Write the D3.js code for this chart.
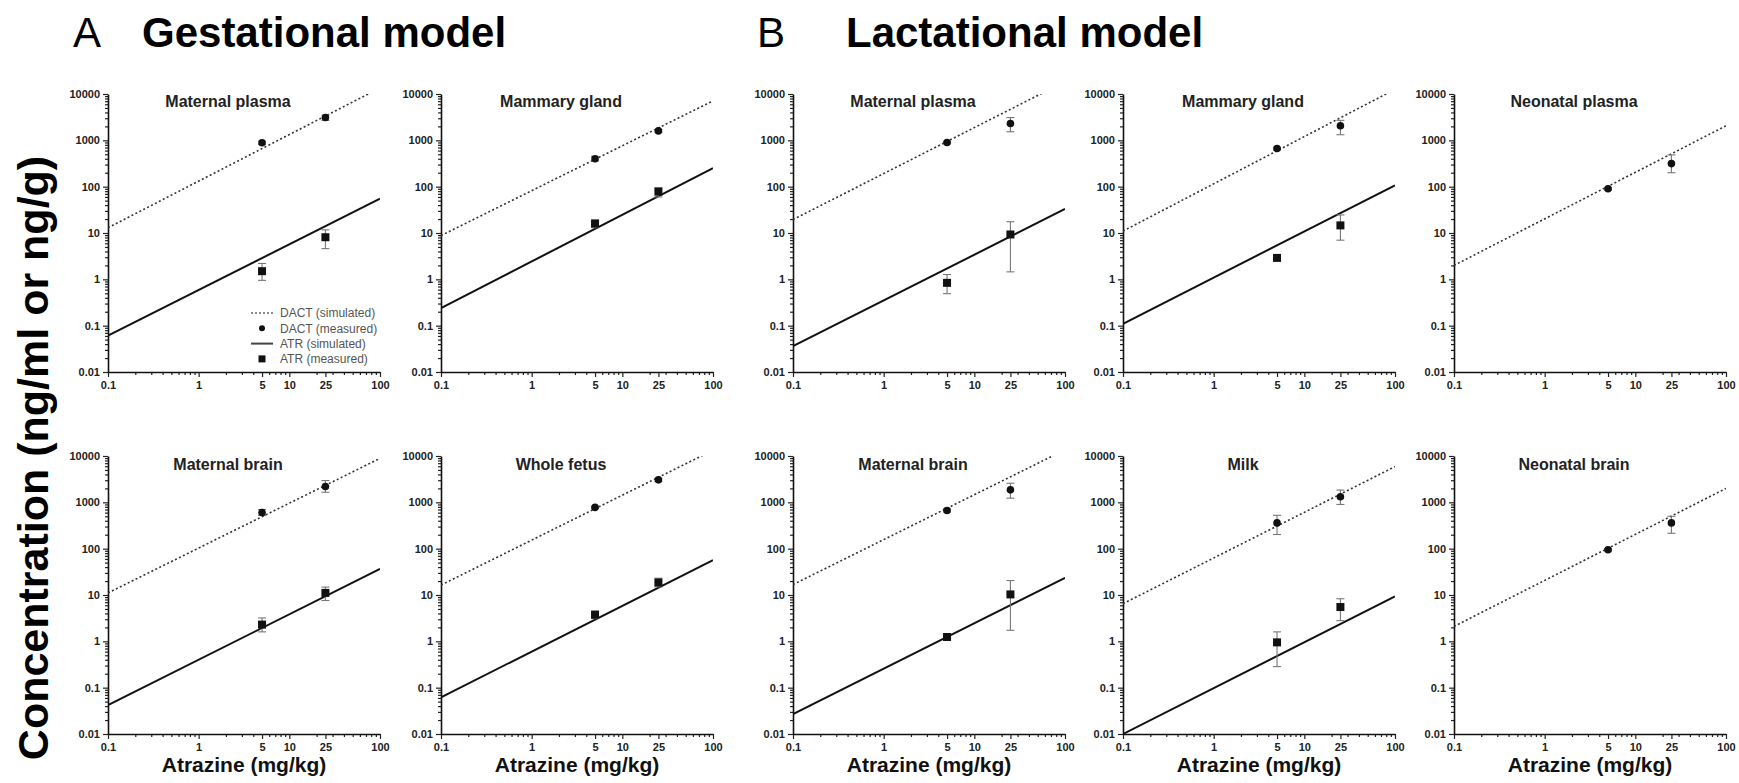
<!DOCTYPE html>
<html>
<head>
<meta charset="utf-8">
<script src="https://cdn.jsdelivr.net/npm/d3@7"></script>
<style>
body{margin:0;background:#fff;}
svg{display:block;font-family:"Liberation Sans",Arial,Helvetica,sans-serif;}
</style>
</head>
<body>
<div id="chart"></div>
<script>
// panels: 0-1,5-6 gestational ; 2-4,7-9 lactational
const panelTitles = ["Maternal plasma","Mammary gland","Maternal plasma","Mammary gland","Neonatal plasma",
                     "Maternal brain","Whole fetus","Maternal brain","Milk","Neonatal brain"];
const panelRow = [0,0,0,0,0,1,1,1,1,1];
const panelCol = [0,1,2,3,4,0,1,2,3,4];

const doses = [5, 25];
const simDoses = [0.1, 100];

// simulated lines, value at 0.1 and at 100 mg/kg
const dactSim = [[13,13500],[8.8,7100],[19.5,18500],[11,12600],[2.0,2060],
                 [11.1,8900],[16.4,13300],[16.8,13600],[6.5,5900],[2.1,2000]];
const atrSim  = [[0.061,55],[0.24,250],[0.036,33],[0.11,107],null,
                 [0.042,36.6],[0.062,56.5],[0.027,23.4],[0.01,9.3],null];

// measured, at 5 and 25 mg/kg
const dactMean = [[890,3100],[400,1600],[900,2300],[665,2060],[90,315],
                  [605,2190],[780,3060],[667,1860],[360,1320],[95,360]];
const dactLow  = [[820,2700],[360,1500],[850,1530],[620,1320],[85,200],
                  [520,1650],[740,2800],[620,1230],[202,900],[90,215]];
const dactHigh = [[960,3500],[450,1700],[950,3100],[710,2700],[95,485],
                  [700,2950],[820,3300],[720,2580],[525,1840],[100,500]];
const atrMean = [[1.5,8.1],[16,78],[0.84,9.3],[2.9,14.6],null,
                 [2.3,11.1],[3.75,18.6],[1.24,10.3],[0.95,5.5],null];
const atrLow  = [[0.95,4.6],[13,60],[0.49,1.45],[2.6,7],null,
                 [1.6,7.6],[3.1,15],[1.15,1.73],[0.285,2.8],null];
const atrHigh = [[2.2,11.7],[19,95],[1.27,17.5],[3.2,24.5],null,
                 [3.2,14.8],[4.5,23],[1.33,20.5],[1.6,8.3],null];

const xTicks = [0.1, 1, 5, 10, 25, 100];
const yTicks = [0.01, 0.1, 1, 10, 100, 1000, 10000];
const legendLabels = ["DACT (simulated)","DACT (measured)","ATR (simulated)","ATR (measured)"];

var W = 1739, H = 783;
var colLeft = [108, 441, 793, 1123, 1454], rowTop = [94, 456];
var pw = 272, ph = 278;

var svg = d3.select("#chart").append("svg")
    .attr("width", W).attr("height", H);

// headings
svg.append("text").attr("x", 73).attr("y", 47).style("font-size", "42px").text("A");
svg.append("text").attr("x", 142).attr("y", 47).style("font-size", "42px").style("font-weight", "bold").text("Gestational model");
svg.append("text").attr("x", 757).attr("y", 47).style("font-size", "42px").text("B");
svg.append("text").attr("x", 846).attr("y", 47).style("font-size", "42px").style("font-weight", "bold").text("Lactational model");

svg.append("text")
    .attr("transform", "translate(48,458) rotate(-90)")
    .attr("text-anchor", "middle")
    .style("font-size", "43px").style("font-weight", "bold")
    .text("Concentration (ng/ml or ng/g)");

var x = d3.scaleLog().domain([0.1, 100]).range([0, pw]);
var y = d3.scaleLog().domain([0.01, 10000]).range([ph, 0]);
var minorX = x.ticks().filter(d => xTicks.indexOf(d) < 0);
var minorY = y.ticks().filter(d => yTicks.indexOf(d) < 0);

var line = d3.line().x(d => x(d[0])).y(d => y(d[1]));

panelTitles.forEach(function (title, i) {
    var g = svg.append("g")
        .attr("transform", `translate(${colLeft[panelCol[i]]},${rowTop[panelRow[i]]})`);

    g.append("clipPath").attr("id", "clip" + i)
        .append("rect").attr("width", pw).attr("height", ph);

    // minor ticks
    g.append("g").attr("transform", `translate(0,${ph})`)
        .call(d3.axisBottom(x).tickValues(minorX).tickFormat("").tickSize(3).tickSizeOuter(0))
        .call(a => a.select(".domain").remove());
    g.append("g")
        .call(d3.axisLeft(y).tickValues(minorY).tickFormat("").tickSize(3).tickSizeOuter(0))
        .call(a => a.select(".domain").remove());

    var xa = g.append("g").attr("transform", `translate(0,${ph})`)
        .call(d3.axisBottom(x).tickValues(xTicks).tickFormat(d => String(d)).tickSize(5).tickSizeOuter(0));
    var ya = g.append("g")
        .call(d3.axisLeft(y).tickValues(yTicks).tickFormat(d => String(d)).tickSize(5).tickSizeOuter(0));
    [xa, ya].forEach(a => {
        a.selectAll("text").style("font-size", "11px").style("font-weight", "bold").attr("fill", "#222")
            .style("font-family", "'Liberation Sans',Arial,sans-serif");
    });
    xa.selectAll("text").attr("dy", "0.85em");
    g.selectAll(".domain").attr("stroke", "#111").attr("stroke-width", 1.6);
    g.selectAll(".tick line").attr("stroke", "#222").attr("stroke-width", 1.2);

    g.append("text")
        .attr("x", 120).attr("y", panelRow[i] == 0 ? 13 : 14)
        .attr("text-anchor", "middle")
        .style("font-size", "16px").style("font-weight", "bold").attr("fill", "#222")
        .text(title);

    var lines = g.append("g").attr("clip-path", `url(#clip${i})`);
    lines.append("path")
        .datum(simDoses.map((d, k) => [d, dactSim[i][k]]))
        .attr("d", line).attr("fill", "none")
        .attr("stroke", "#333").attr("stroke-width", 1.6).attr("stroke-dasharray", "2,2.4");
    if (atrSim[i]) {
        lines.append("path")
            .datum(simDoses.map((d, k) => [d, atrSim[i][k]]))
            .attr("d", line).attr("fill", "none")
            .attr("stroke", "#111").attr("stroke-width", 2);
    }

    // measured points with error bars
    var sets = [{mean: dactMean[i], lo: dactLow[i], hi: dactHigh[i], shape: "circle"}];
    if (atrMean[i]) sets.push({mean: atrMean[i], lo: atrLow[i], hi: atrHigh[i], shape: "square"});
    sets.forEach(function (s) {
        doses.forEach(function (dose, k) {
            var cx = x(dose);
            var eg = g.append("g").attr("stroke", "#777").attr("stroke-width", 1.1);
            eg.append("line").attr("x1", cx).attr("x2", cx).attr("y1", y(s.lo[k])).attr("y2", y(s.hi[k]));
            [s.lo[k], s.hi[k]].forEach(v => {
                eg.append("line").attr("x1", cx - 4).attr("x2", cx + 4).attr("y1", y(v)).attr("y2", y(v));
            });
            if (s.shape == "circle") {
                g.append("circle").attr("cx", cx).attr("cy", y(s.mean[k])).attr("r", 3.8).attr("fill", "#111");
            } else {
                g.append("rect").attr("x", cx - 4).attr("y", y(s.mean[k]) - 4)
                    .attr("width", 8).attr("height", 8).attr("fill", "#111");
            }
        });
    });

    if (panelRow[i] == 1) {
        g.append("text")
            .attr("x", pw / 2).attr("y", ph + 38)
            .attr("text-anchor", "middle")
            .style("font-size", "21px").style("font-weight", "bold").attr("fill", "#111")
            .text("Atrazine (mg/kg)");
    }

    // legend only in first panel
    if (i == 0) {
        var lg = g.append("g").attr("transform", "translate(154,219)");
        legendLabels.forEach(function (lab, k) {
            var ly = k * 15.3;
            if (k == 0 || k == 2) {
                lg.append("line").attr("x1", -11).attr("x2", 11).attr("y1", ly).attr("y2", ly)
                    .attr("stroke", k == 0 ? "#666" : "#444").attr("stroke-width", k == 0 ? 1.5 : 2)
                    .attr("stroke-dasharray", k == 0 ? "2,2" : null);
            } else if (k == 1) {
                lg.append("circle").attr("cy", ly).attr("r", 3).attr("fill", "#111");
            } else {
                lg.append("rect").attr("x", -3.5).attr("y", ly - 3.5).attr("width", 7).attr("height", 7).attr("fill", "#111");
            }
            lg.append("text").attr("x", 18).attr("y", ly).attr("dy", "0.35em")
                .style("font-size", "12px").attr("fill", "#555").text(lab);
        });
    }
});
</script>
</body>
</html>
